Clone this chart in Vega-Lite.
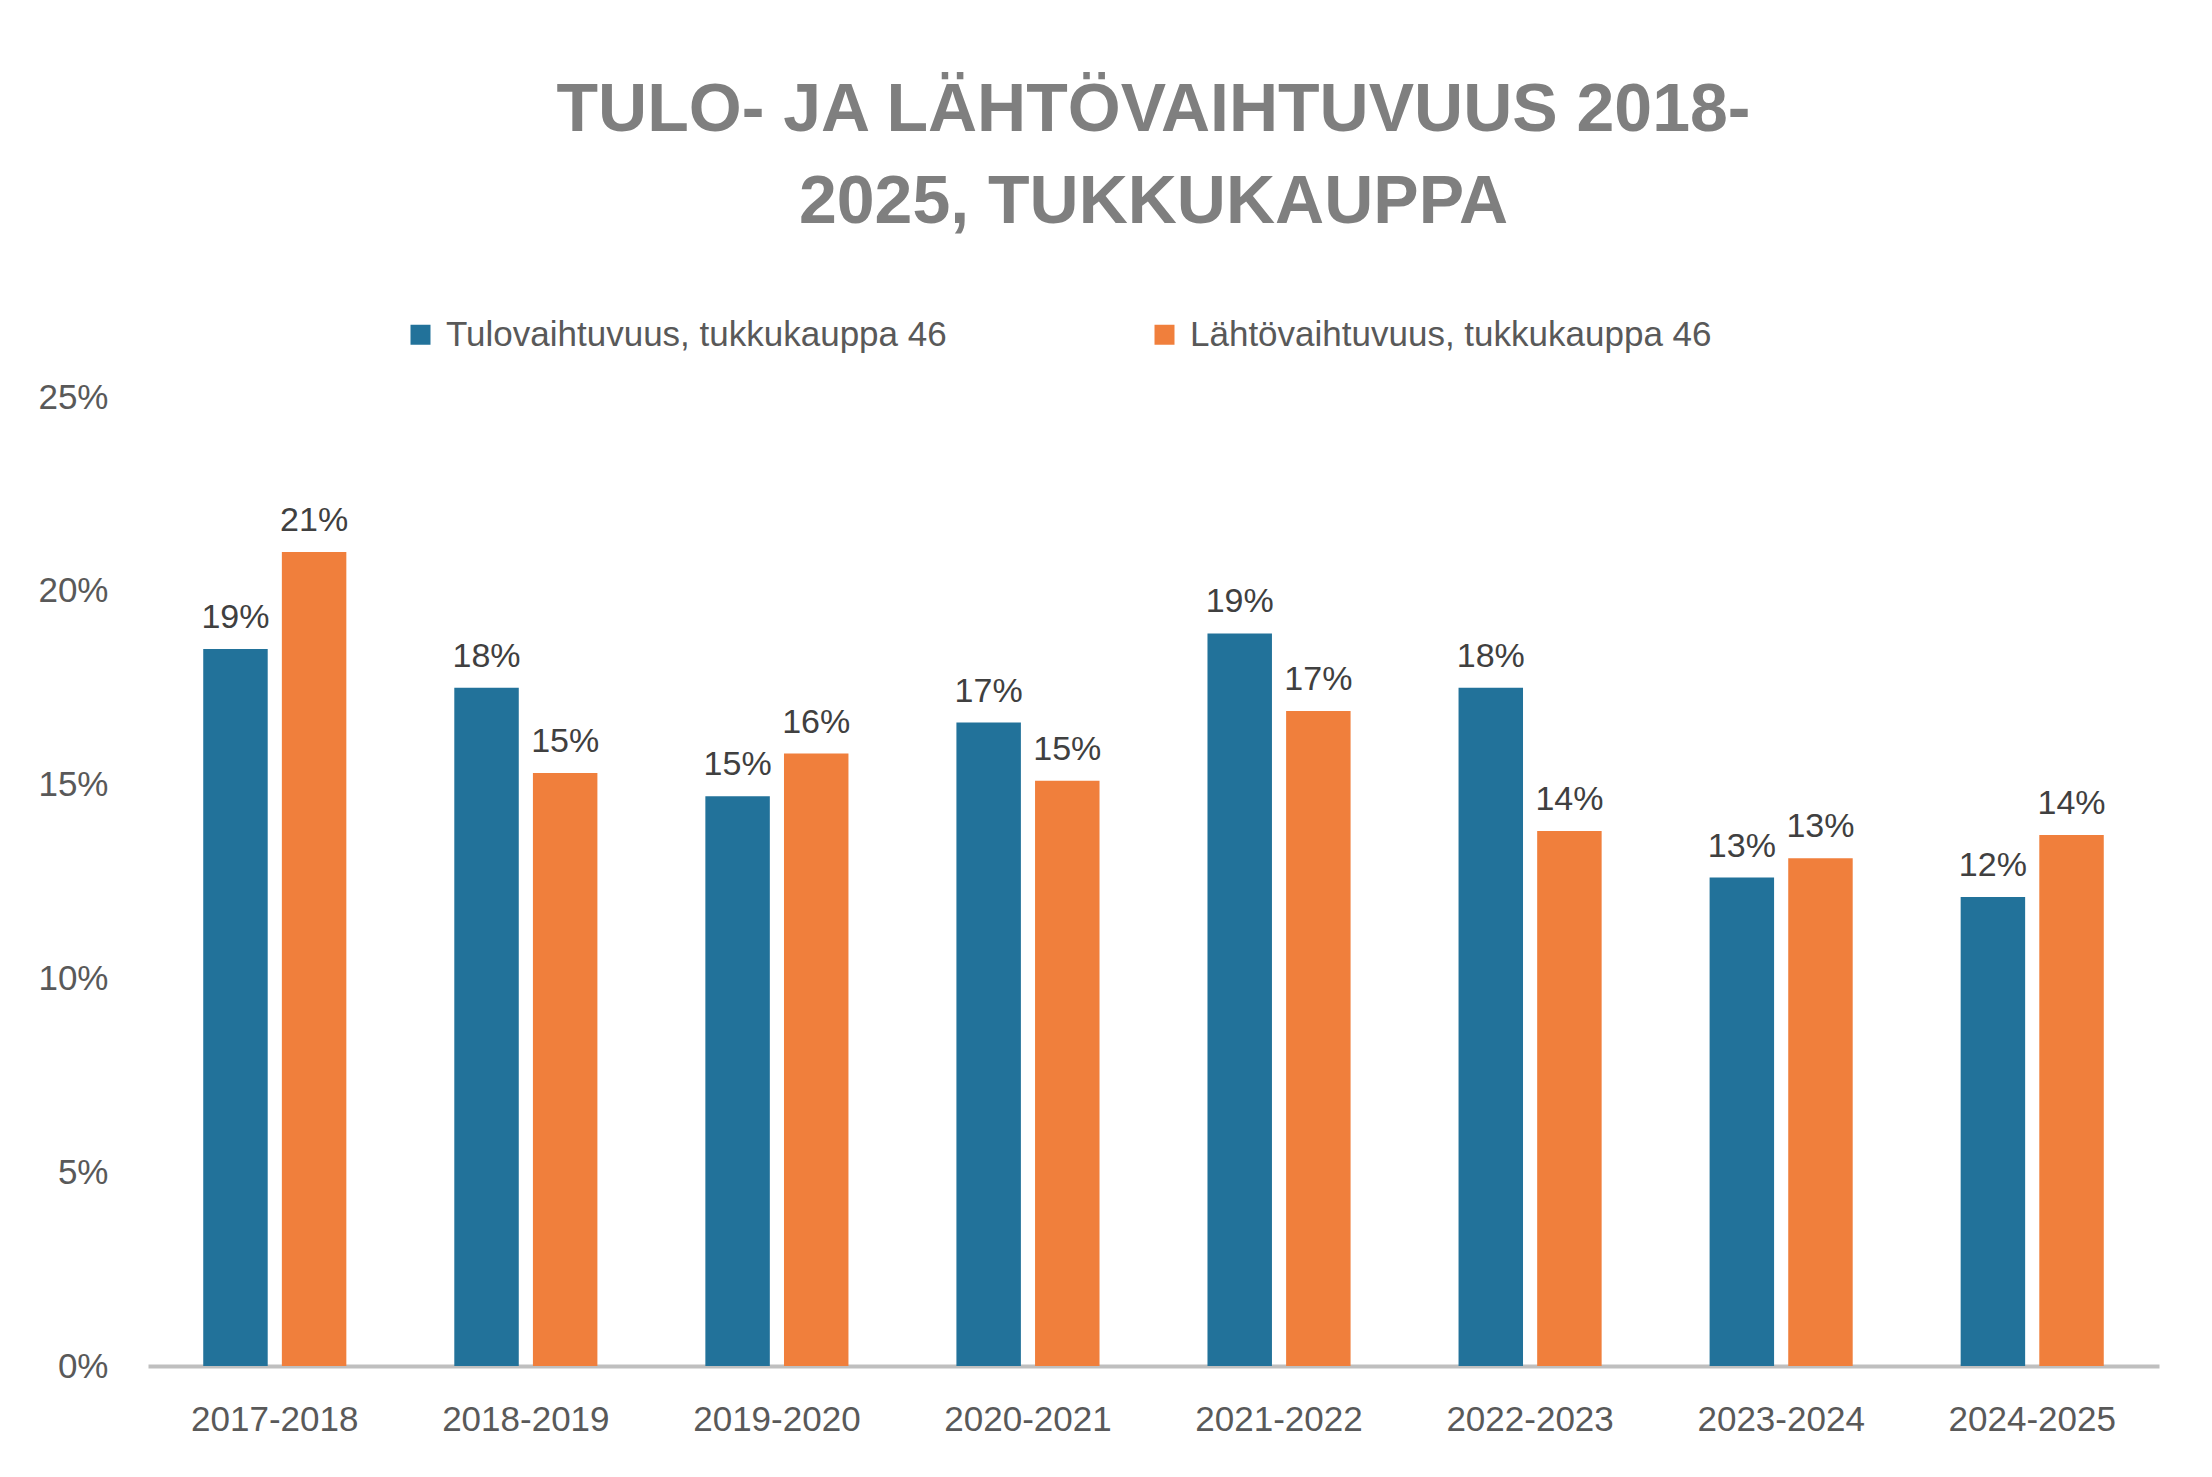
{
  "$schema": "https://vega.github.io/schema/vega-lite/v6.json",
  "width": 2011,
  "height": 969,
  "autosize": {"type": "none"},
  "padding": {"left": 148, "top": 397, "right": 53, "bottom": 111},
  "background": "white",
  "config": {"view": {"stroke": null}},
  "title": {
    "text": ["TULO- JA LÄHTÖVAIHTUVUUS 2018-", "2025, TUKKUKAUPPA"],
    "font": "Liberation Sans",
    "fontSize": 68,
    "fontWeight": "bold",
    "color": "#7f7f7f",
    "lineHeight": 92,
    "limit": 2200,
    "anchor": "middle",
    "frame": "group",
    "offset": 80
  },
  "data": {
    "values": [
      {"p": "2017-2018", "s": "Tulovaihtuvuus, tukkukauppa 46", "v": 0.185},
      {"p": "2017-2018", "s": "Lähtövaihtuvuus, tukkukauppa 46", "v": 0.21},
      {"p": "2018-2019", "s": "Tulovaihtuvuus, tukkukauppa 46", "v": 0.175},
      {"p": "2018-2019", "s": "Lähtövaihtuvuus, tukkukauppa 46", "v": 0.153},
      {"p": "2019-2020", "s": "Tulovaihtuvuus, tukkukauppa 46", "v": 0.147},
      {"p": "2019-2020", "s": "Lähtövaihtuvuus, tukkukauppa 46", "v": 0.158},
      {"p": "2020-2021", "s": "Tulovaihtuvuus, tukkukauppa 46", "v": 0.166},
      {"p": "2020-2021", "s": "Lähtövaihtuvuus, tukkukauppa 46", "v": 0.151},
      {"p": "2021-2022", "s": "Tulovaihtuvuus, tukkukauppa 46", "v": 0.189},
      {"p": "2021-2022", "s": "Lähtövaihtuvuus, tukkukauppa 46", "v": 0.169},
      {"p": "2022-2023", "s": "Tulovaihtuvuus, tukkukauppa 46", "v": 0.175},
      {"p": "2022-2023", "s": "Lähtövaihtuvuus, tukkukauppa 46", "v": 0.138},
      {"p": "2023-2024", "s": "Tulovaihtuvuus, tukkukauppa 46", "v": 0.126},
      {"p": "2023-2024", "s": "Lähtövaihtuvuus, tukkukauppa 46", "v": 0.131},
      {"p": "2024-2025", "s": "Tulovaihtuvuus, tukkukauppa 46", "v": 0.121},
      {"p": "2024-2025", "s": "Lähtövaihtuvuus, tukkukauppa 46", "v": 0.137}
    ]
  },
  "encoding": {
    "x": {
      "field": "p", "type": "nominal", "title": null,
      "scale": {"paddingInner": 0.43, "paddingOuter": 0.22},
      "axis": {"labelAngle": 0, "labelFont": "Liberation Sans", "labelFontSize": 35, "labelColor": "#595959", "labelPadding": 36, "ticks": false, "domainColor": "#bfbfbf", "domainWidth": 4}
    },
    "xOffset": {"field": "s", "type": "nominal", "sort": ["Tulovaihtuvuus, tukkukauppa 46", "Lähtövaihtuvuus, tukkukauppa 46"], "scale": {"paddingInner": 0.18}},
    "y": {
      "field": "v", "type": "quantitative", "title": null,
      "scale": {"domain": [0, 0.25]},
      "axis": {"format": ".0%", "values": [0, 0.05, 0.1, 0.15, 0.2, 0.25], "grid": false, "domain": false, "ticks": false, "labelFont": "Liberation Sans", "labelFontSize": 35, "labelColor": "#595959", "labelPadding": 40}
    },
    "color": {
      "field": "s", "type": "nominal", "sort": ["Tulovaihtuvuus, tukkukauppa 46", "Lähtövaihtuvuus, tukkukauppa 46"],
      "scale": {"range": ["#22729a", "#f07f3c"]},
      "legend": {"title": null, "orient": "none", "legendX": 255, "legendY": -80, "direction": "horizontal", "symbolType": "square", "symbolSize": 400, "labelFont": "Liberation Sans", "labelFontSize": 35, "labelColor": "#595959", "columnPadding": 200, "labelLimit": 800, "labelOffset": 8}
    }
  },
  "layer": [
    {"mark": {"type": "bar"}},
    {"mark": {"type": "text", "baseline": "bottom", "dy": -14, "font": "Liberation Sans", "fontSize": 34, "color": "#404040"},
     "encoding": {"text": {"field": "v", "type": "quantitative", "format": ".0%"}, "color": {"value": "#404040"}}}
  ]
}
